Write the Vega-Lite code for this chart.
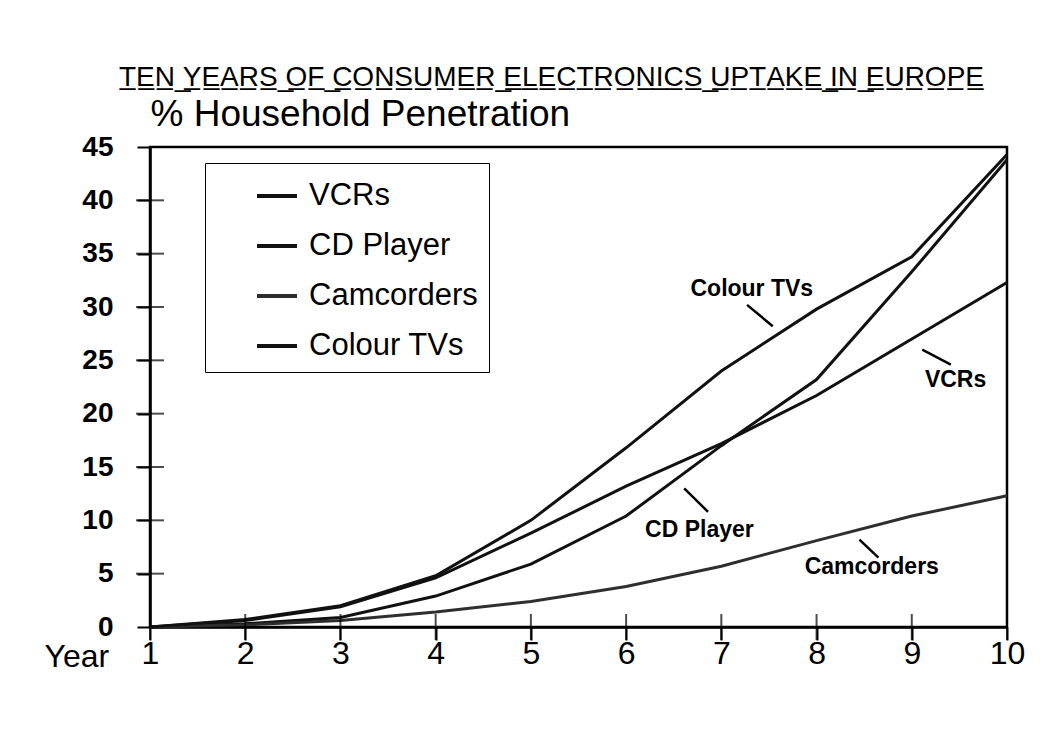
{
  "$schema": "https://vega.github.io/schema/vega-lite/v6.json",
  "width": 857,
  "height": 480,
  "autosize": {"type": "none"},
  "padding": {"left": 150, "top": 147, "right": 43, "bottom": 115},
  "background": "white",
  "config": {
    "view": {"stroke": "black", "strokeWidth": 2.5},
    "font": "Liberation Sans"
  },
  "title": {
    "text": "T\u0332E\u0332N\u0332 \u0332Y\u0332E\u0332A\u0332R\u0332S\u0332 \u0332O\u0332F\u0332 \u0332C\u0332O\u0332N\u0332S\u0332U\u0332M\u0332E\u0332R\u0332 \u0332E\u0332L\u0332E\u0332C\u0332T\u0332R\u0332O\u0332N\u0332I\u0332C\u0332S\u0332 \u0332U\u0332P\u0332T\u0332A\u0332K\u0332E\u0332 \u0332I\u0332N\u0332 \u0332E\u0332U\u0332R\u0332O\u0332P\u0332E\u0332",
    "font": "Liberation Sans",
    "fontSize": 28,
    "fontWeight": "normal",
    "color": "black",
    "anchor": "middle",
    "frame": "group",
    "dx": -27,
    "baseline": "alphabetic",
    "offset": -19
  },
  "datasets": {
    "series": [
      {"year": 1, "product": "VCRs", "pct": 0},
      {"year": 2, "product": "VCRs", "pct": 0.6},
      {"year": 3, "product": "VCRs", "pct": 1.9},
      {"year": 4, "product": "VCRs", "pct": 4.6},
      {"year": 5, "product": "VCRs", "pct": 8.8},
      {"year": 6, "product": "VCRs", "pct": 13.2},
      {"year": 7, "product": "VCRs", "pct": 17.2},
      {"year": 8, "product": "VCRs", "pct": 21.7},
      {"year": 9, "product": "VCRs", "pct": 27.0},
      {"year": 10, "product": "VCRs", "pct": 32.3},
      {"year": 1, "product": "CD Player", "pct": 0},
      {"year": 2, "product": "CD Player", "pct": 0.3},
      {"year": 3, "product": "CD Player", "pct": 0.9},
      {"year": 4, "product": "CD Player", "pct": 2.9},
      {"year": 5, "product": "CD Player", "pct": 5.9},
      {"year": 6, "product": "CD Player", "pct": 10.4},
      {"year": 7, "product": "CD Player", "pct": 17.0},
      {"year": 8, "product": "CD Player", "pct": 23.2},
      {"year": 9, "product": "CD Player", "pct": 33.3},
      {"year": 10, "product": "CD Player", "pct": 43.8},
      {"year": 1, "product": "Camcorders", "pct": 0},
      {"year": 2, "product": "Camcorders", "pct": 0.2},
      {"year": 3, "product": "Camcorders", "pct": 0.6},
      {"year": 4, "product": "Camcorders", "pct": 1.4},
      {"year": 5, "product": "Camcorders", "pct": 2.4},
      {"year": 6, "product": "Camcorders", "pct": 3.8},
      {"year": 7, "product": "Camcorders", "pct": 5.7},
      {"year": 8, "product": "Camcorders", "pct": 8.1},
      {"year": 9, "product": "Camcorders", "pct": 10.4},
      {"year": 10, "product": "Camcorders", "pct": 12.3},
      {"year": 1, "product": "Colour TVs", "pct": 0},
      {"year": 2, "product": "Colour TVs", "pct": 0.7},
      {"year": 3, "product": "Colour TVs", "pct": 2.0},
      {"year": 4, "product": "Colour TVs", "pct": 4.8},
      {"year": 5, "product": "Colour TVs", "pct": 10.0},
      {"year": 6, "product": "Colour TVs", "pct": 16.8},
      {"year": 7, "product": "Colour TVs", "pct": 24.0},
      {"year": 8, "product": "Colour TVs", "pct": 29.8},
      {"year": 9, "product": "Colour TVs", "pct": 34.7},
      {"year": 10, "product": "Colour TVs", "pct": 44.3}
    ],
    "yticks": [
      {"v": 5}, {"v": 10}, {"v": 15}, {"v": 20}, {"v": 25}, {"v": 30}, {"v": 35}, {"v": 40}
    ],
    "labels": [
      {"name": "Colour TVs", "x": 7.32, "y": 31.7, "lx1": 7.27, "ly1": 30.2, "lx2": 7.54, "ly2": 28.2},
      {"name": "VCRs", "x": 9.46, "y": 23.2, "lx1": 9.11, "ly1": 26.0, "lx2": 9.41, "ly2": 24.6},
      {"name": "CD Player", "x": 6.77, "y": 9.1, "lx1": 6.61, "ly1": 13.0, "lx2": 6.86, "ly2": 10.8},
      {"name": "Camcorders", "x": 8.58, "y": 5.6, "lx1": 8.45, "ly1": 8.2, "lx2": 8.65, "ly2": 6.5}
    ]
  },
  "layer": [
    {
      "data": {"name": "series"},
      "mark": {"type": "line", "strokeWidth": 3, "clip": false},
      "encoding": {
        "x": {
          "field": "year",
          "type": "quantitative",
          "scale": {"domain": [1, 10], "nice": false, "zero": false},
          "axis": {
            "values": [1, 2, 3, 4, 5, 6, 7, 8, 9, 10],
            "format": "d",
            "grid": false,
            "labelFontSize": 32,
            "labelColor": "black",
            "labelFont": "Liberation Sans",
            "labelFlush": false,
            "labelOverlap": false,
            "labelBound": false,
            "labelPadding": -2,
            "domainColor": "black",
            "domainWidth": 2.5,
            "tickColor": "black",
            "tickWidth": 2,
            "tickSize": 13,
            "title": "Year",
            "titleFont": "Liberation Sans",
            "titleFontSize": 32,
            "titleFontWeight": "normal",
            "titleColor": "black",
            "titleAngle": 0,
            "titleAlign": "left",
            "titleBaseline": "middle",
            "titleX": -106,
            "titleY": 29
          }
        },
        "y": {
          "field": "pct",
          "type": "quantitative",
          "scale": {"domain": [0, 45], "nice": false},
          "axis": {
            "values": [0, 5, 10, 15, 20, 25, 30, 35, 40, 45],
            "grid": false,
            "labelFontSize": 28,
            "labelFontWeight": "bold",
            "labelColor": "black",
            "labelFont": "Liberation Sans",
            "labelFlush": false,
            "labelOverlap": false,
            "labelBound": false,
            "labelPadding": 24,
            "domainColor": "black",
            "domainWidth": 2.5,
            "tickColor": "black",
            "tickWidth": 2,
            "tickSize": 13,
            "title": "% Household Penetration",
            "titleFont": "Liberation Sans",
            "titleFontSize": 37,
            "titleFontWeight": "normal",
            "titleColor": "black",
            "titleAngle": 0,
            "titleAlign": "left",
            "titleBaseline": "middle",
            "titleX": 0,
            "titleY": -33
          }
        },
        "color": {
          "field": "product",
          "type": "nominal",
          "scale": {
            "domain": ["VCRs", "CD Player", "Camcorders", "Colour TVs"],
            "range": ["#111111", "#111111", "#2e2e2e", "#111111"]
          },
          "legend": {
            "title": null,
            "orient": "none",
            "legendX": 55,
            "legendY": 16,
            "strokeColor": "black",
            "fillColor": "white",
            "padding": 11,
            "symbolType": "stroke",
            "symbolSize": 1600,
            "symbolStrokeWidth": 4,
            "symbolOffset": 39,
            "labelOffset": 10,
            "labelFontSize": 31,
            "labelFont": "Liberation Sans",
            "labelColor": "black",
            "labelLimit": 400,
            "rowPadding": 13
          }
        }
      }
    },
    {
      "data": {"name": "series"},
      "transform": [{"filter": "datum.product === 'VCRs'"}],
      "mark": {"type": "tick", "orient": "vertical", "size": 26, "thickness": 2, "color": "black", "clip": false},
      "encoding": {
        "x": {"field": "year", "type": "quantitative"},
        "y": {"datum": 0}
      }
    },
    {
      "data": {"name": "yticks"},
      "mark": {"type": "tick", "orient": "horizontal", "size": 28, "thickness": 2, "color": "black", "clip": false},
      "encoding": {
        "x": {"datum": 1},
        "y": {"field": "v", "type": "quantitative"}
      }
    },
    {
      "data": {"name": "labels"},
      "mark": {"type": "rule", "strokeWidth": 2.5, "color": "black"},
      "encoding": {
        "x": {"field": "lx1", "type": "quantitative"},
        "y": {"field": "ly1", "type": "quantitative"},
        "x2": {"field": "lx2"},
        "y2": {"field": "ly2"}
      }
    },
    {
      "data": {"name": "labels"},
      "mark": {"type": "text", "fontSize": 23, "fontWeight": "bold", "font": "Liberation Sans", "color": "black"},
      "encoding": {
        "x": {"field": "x", "type": "quantitative"},
        "y": {"field": "y", "type": "quantitative"},
        "text": {"field": "name"}
      }
    }
  ]
}
